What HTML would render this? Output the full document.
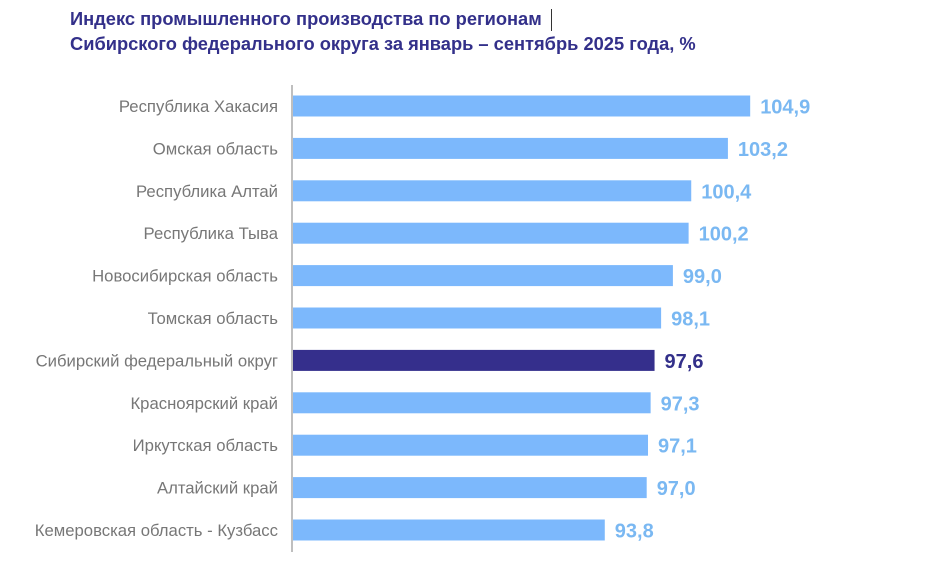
<!DOCTYPE html>
<html><head><meta charset="utf-8"><style>
body{margin:0;background:#fff;width:933px;height:568px;overflow:hidden;font-family:"Liberation Sans",sans-serif}
.t{position:absolute;left:70px;font-weight:bold;font-size:18.3px;color:#33308a;white-space:nowrap}
</style></head><body>
<div class="t" style="top:8px">Индекс промышленного производства по регионам</div>
<div style="position:absolute;left:551px;top:9px;width:1px;height:22px;background:#333"></div>
<div class="t" style="top:33px">Сибирского федерального округа за январь – сентябрь 2025 года, %</div>
<svg id="c" width="933" height="568" style="position:absolute;left:0;top:0"></svg>
<script>
const categories=["Республика Хакасия","Омская область","Республика Алтай","Республика Тыва","Новосибирская область","Томская область","Сибирский федеральный округ","Красноярский край","Иркутская область","Алтайский край","Кемеровская область - Кузбасс"];
const values=[104.9,103.2,100.4,100.2,99.0,98.1,97.6,97.3,97.1,97.0,93.8];
const valueLabels=["104,9","103,2","100,4","100,2","99,0","98,1","97,6","97,3","97,1","97,0","93,8"];
const highlight=["Сибирский федеральный округ"];
const svg=document.getElementById('c');const NS='http://www.w3.org/2000/svg';
const x0=293,xMin=70,scale=13.1;
const x=v=>x0+(v-xMin)*scale;
const y=i=>106+i*42.4;
function mk(t,a){const e=document.createElementNS(NS,t);for(const k in a)e.setAttribute(k,a[k]);svg.appendChild(e);return e;}
categories.forEach((c,i)=>{
 const hi=highlight.includes(c);
 const r=mk('rect',{x:x0,y:y(i)-10.5,width:x(values[i])-x0,height:21,fill:hi?'#352f8c':'#7cb8fc'});
 
 
 const l=mk('text',{x:278,y:y(i)+6,'text-anchor':'end','font-size':16.7,fill:'#777','font-family':'Liberation Sans, sans-serif'});
 l.textContent=c;
 
 
 const v=mk('text',{x:x(values[i])+10,y:y(i)+7.5,'font-size':20,'font-weight':'bold',fill:hi?'#33308a':'#7ab8f2','font-family':'Liberation Sans, sans-serif'});
 v.textContent=valueLabels[i];
 
 
});
const ax=mk('line',{x1:292,x2:292,y1:85,y2:552,stroke:'#aaa','stroke-width':1.5});


</script>
</body></html>
